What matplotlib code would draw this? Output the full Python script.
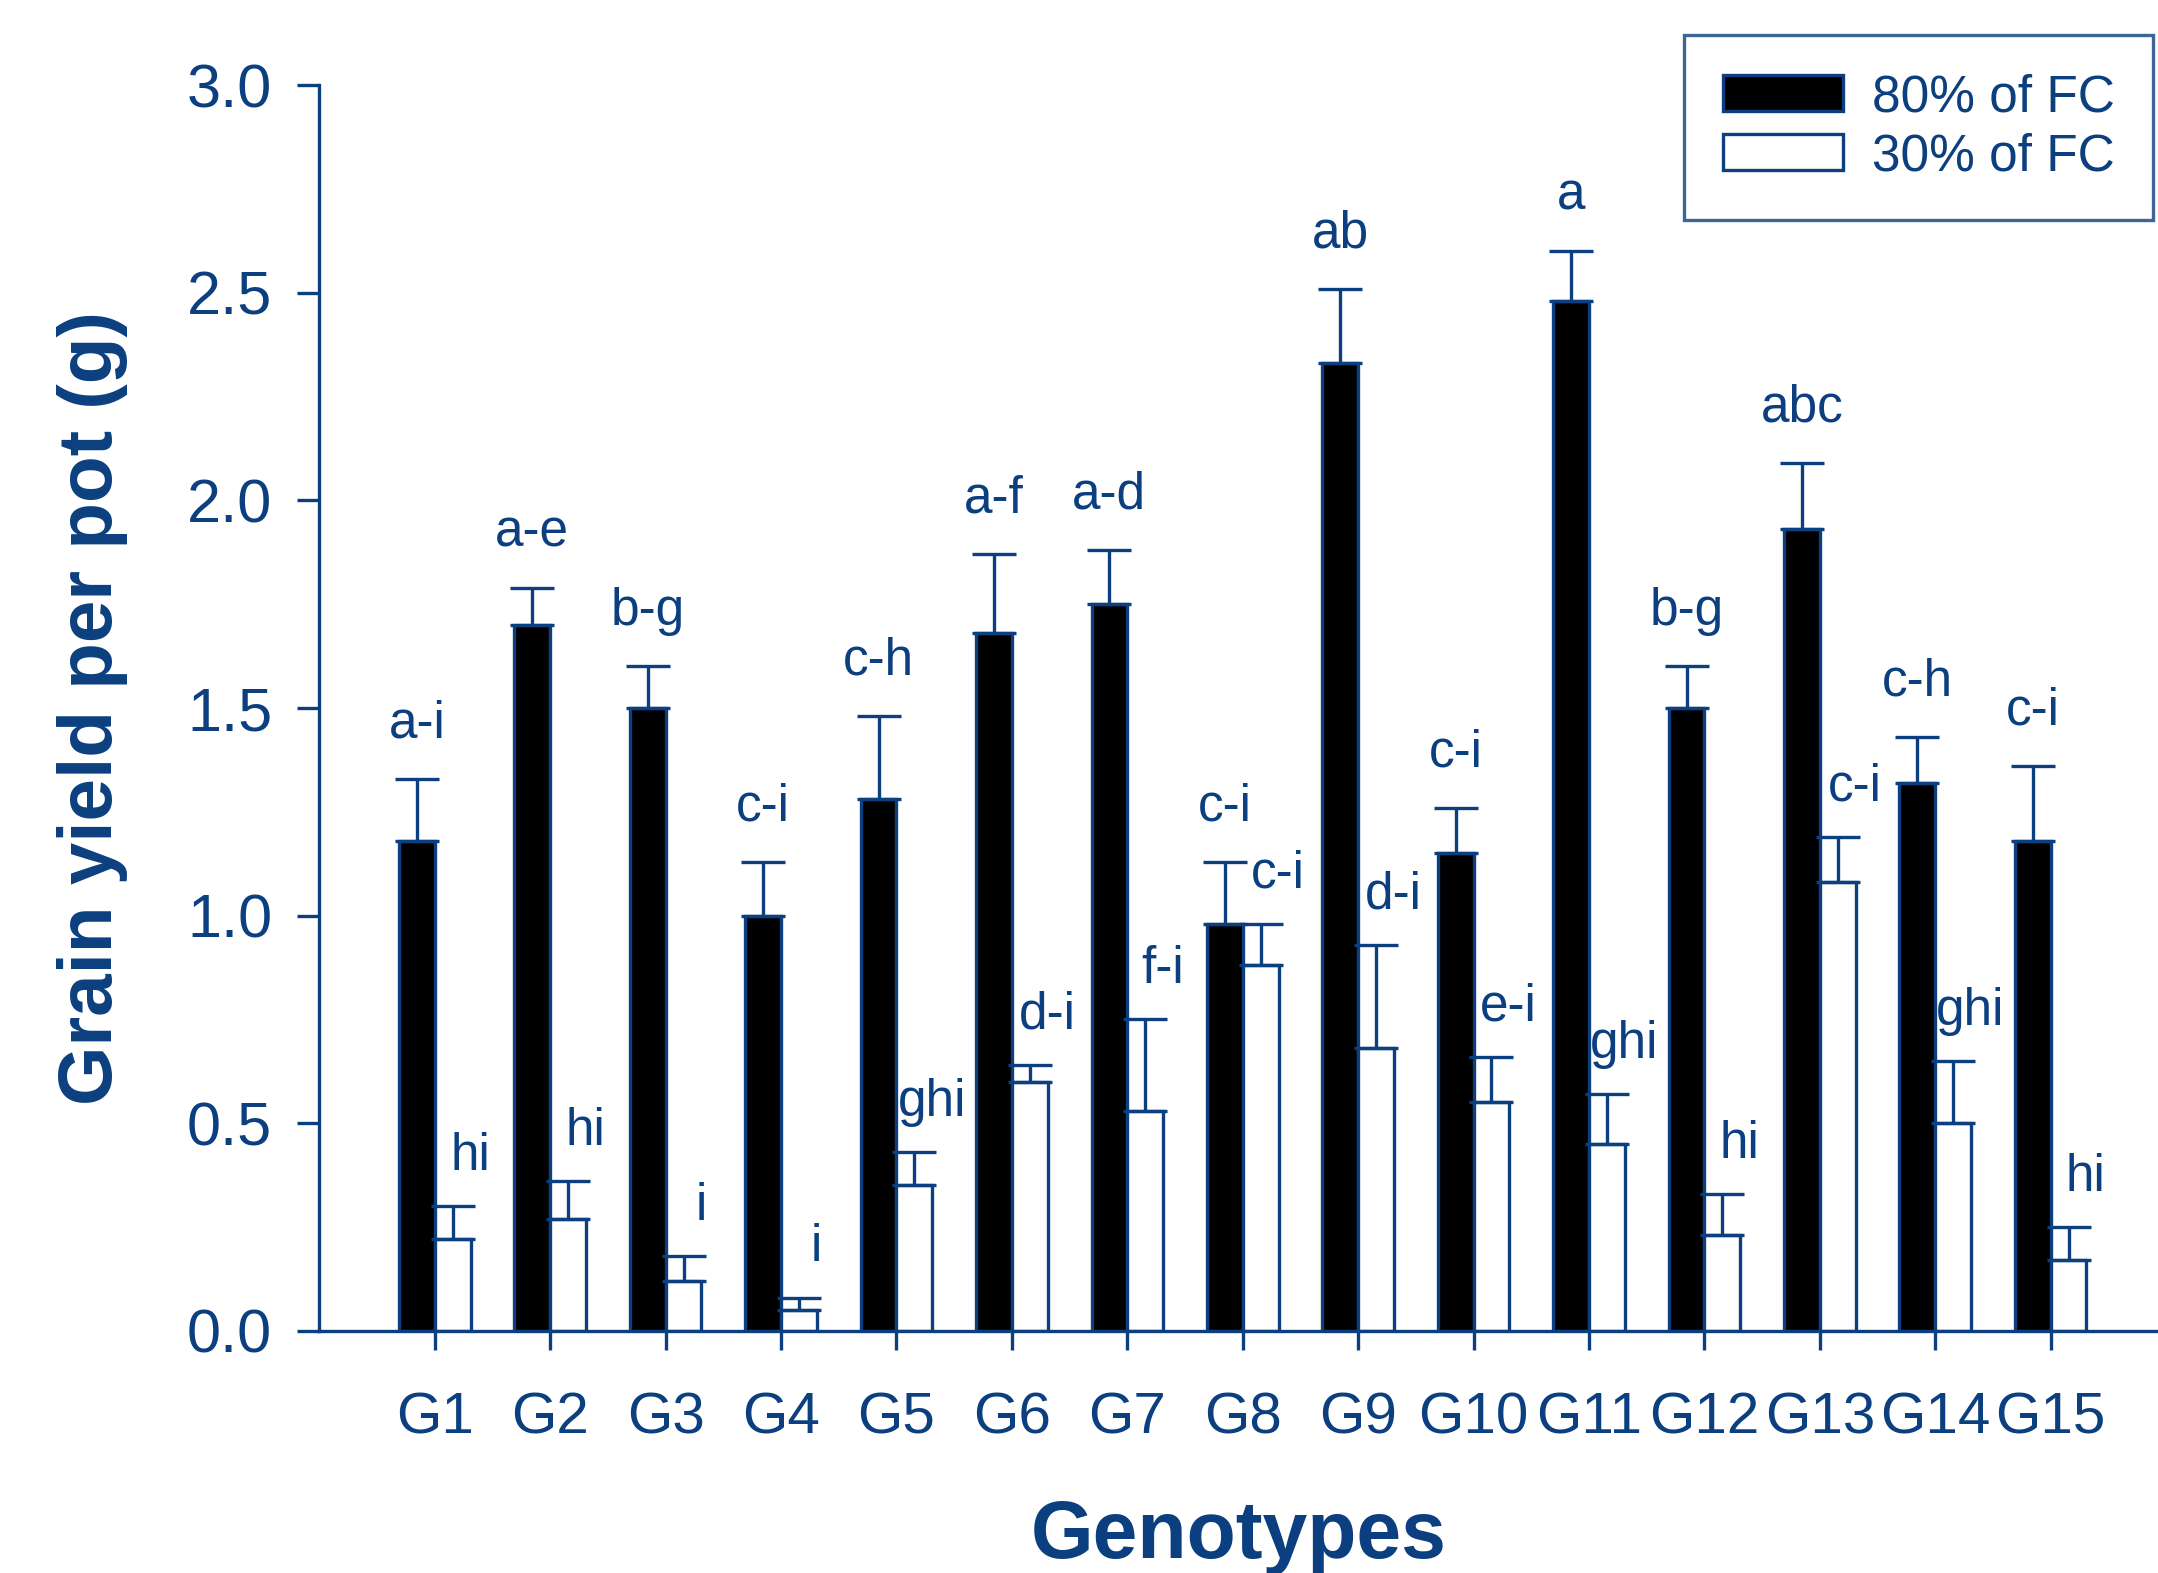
import matplotlib
matplotlib.use("Agg")
import matplotlib.pyplot as plt
import numpy as np

genotypes = ["G1", "G2", "G3", "G4", "G5", "G6", "G7", "G8", "G9", "G10",
             "G11", "G12", "G13", "G14", "G15"]
fc80 = [1.18, 1.70, 1.50, 1.00, 1.28, 1.68, 1.75, 0.98, 2.33, 1.15, 2.48, 1.50, 1.93, 1.32, 1.18]
fc80_err = [0.15, 0.09, 0.10, 0.13, 0.20, 0.19, 0.13, 0.15, 0.18, 0.11, 0.12, 0.10, 0.16, 0.11, 0.18]
fc30 = [0.22, 0.27, 0.12, 0.05, 0.35, 0.60, 0.53, 0.88, 0.68, 0.55, 0.45, 0.23, 1.08, 0.50, 0.17]
fc30_err = [0.08, 0.09, 0.06, 0.03, 0.08, 0.04, 0.22, 0.10, 0.25, 0.11, 0.12, 0.10, 0.11, 0.15, 0.08]
fc80_letters = ["a-i", "a-e", "b-g", "c-i", "c-h", "a-f", "a-d", "c-i", "ab", "c-i",
                "a", "b-g", "abc", "c-h", "c-i"]
fc30_letters = ["hi", "hi", "i", "i", "ghi", "d-i", "f-i", "c-i", "d-i", "e-i",
                "ghi", "hi", "c-i", "ghi", "hi"]
yticks = [0.0, 0.5, 1.0, 1.5, 2.0, 2.5, 3.0]

BLUE = "#0b3f7f"
plt.rcParams['font.family'] = ['Liberation Sans', 'DejaVu Sans']

fig = plt.figure(figsize=(21.58, 15.73), dpi=100)
ax = fig.add_axes([0.148, 0.154, 0.852, 0.7918])

x = np.arange(1, len(genotypes) + 1)
w = 0.31
lw = 2.4
err_kw = dict(ecolor=BLUE, elinewidth=2.4, capsize=16, capthick=2.4)

ax.bar(x - w / 2, fc80, w, color="black", edgecolor=BLUE, linewidth=lw,
       yerr=[np.zeros(len(fc80)), fc80_err], error_kw=err_kw, label="80% of FC", zorder=2)
ax.bar(x + w / 2, fc30, w, color="white", edgecolor=BLUE, linewidth=lw,
       yerr=[np.zeros(len(fc30)), fc30_err], error_kw=err_kw, label="30% of FC", zorder=2)

for i in range(len(genotypes)):
    ax.text(x[i] - w / 2, fc80[i] + fc80_err[i] + 0.10, fc80_letters[i],
            ha="center", va="baseline", fontsize=37, color=BLUE)
    ax.text(x[i] + w / 2 + 0.15, fc30[i] + fc30_err[i] + 0.087, fc30_letters[i],
            ha="center", va="baseline", fontsize=37, color=BLUE)

ax.set_xlim(0, 15.93)
ax.set_ylim(0, 3.0)
ax.set_yticks(yticks)
ax.set_yticklabels([f"{v:.1f}" for v in yticks])
ax.set_xticks(x)
ax.set_xticklabels(genotypes)

for s in ["top", "right"]:
    ax.spines[s].set_visible(False)
for s in ["left", "bottom"]:
    ax.spines[s].set_color(BLUE)
    ax.spines[s].set_linewidth(2.4)

ax.tick_params(axis="y", colors=BLUE, labelsize=44, length=16, width=2.4, pad=18)
ax.tick_params(axis="x", colors=BLUE, labelsize=42, length=14, width=2.4, pad=30)
ax.set_ylabel("Grain yield per pot (g)", fontsize=55, fontweight="bold", color=BLUE, labelpad=42)
ax.set_xlabel("Genotypes", fontsize=58, fontweight="bold", color=BLUE, labelpad=38)

leg = ax.legend(loc="upper right", bbox_to_anchor=(0.9977, 0.978), bbox_transform=fig.transFigure,
                fontsize=37, frameon=True, fancybox=False, handlelength=2.35, handleheight=0.7,
                labelspacing=0.2, borderpad=0.75, handletextpad=0.55, borderaxespad=0)
leg.get_frame().set_edgecolor(BLUE)
leg.get_frame().set_linewidth(2.4)
for t in leg.get_texts():
    t.set_color(BLUE)

fig.savefig("out.png", dpi=100)
